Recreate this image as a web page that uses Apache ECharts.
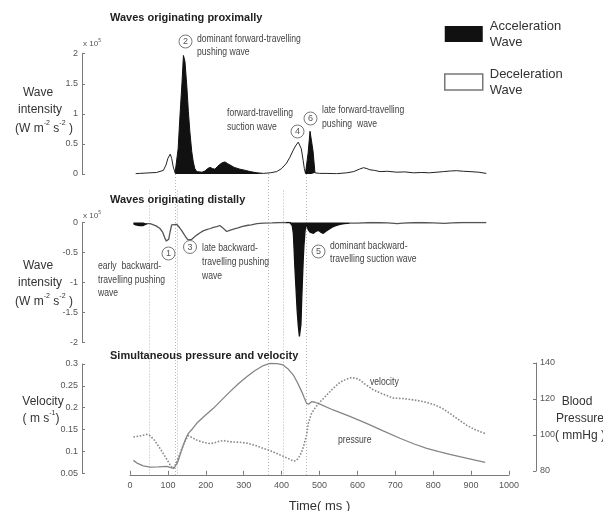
<!DOCTYPE html>
<html>
<head>
<meta charset="utf-8">
<script src="https://cdn.jsdelivr.net/npm/echarts@6/dist/echarts.min.js"></script>
<style>
  html, body { margin: 0; padding: 0; background: #fff; }
  #chart { width: 603px; height: 511px; }
</style>
</head>
<body>
<div id="chart"></div>
<script>
// ---- Wave intensity of waves originating proximally (x10^5 W m-2 s-2) ----
const proxTime = [15, 25, 40, 53, 70, 88, 95, 100, 106, 110, 114, 119, 123, 127, 132, 137, 141, 145, 150, 154, 158, 163, 167, 171, 176, 180, 190, 198, 205, 211, 218, 224, 230, 237, 244, 251, 258, 264, 275, 290, 305, 317, 335, 352, 370, 387, 400, 413, 422, 431, 438, 444, 448, 452, 457, 460, 463, 466, 470, 475, 479, 483, 488, 500, 520, 545, 572, 590, 605, 616, 625, 633, 645, 660, 680, 704, 725, 748, 770, 790, 810, 827, 845, 862, 880, 897, 920, 940];
const proxIntensity = [0.005, 0.01, 0.015, 0.02, 0.025, 0.06, 0.15, 0.26, 0.33, 0.26, 0.12, 0.02, 0.0, 0.42, 0.98, 1.5, 1.97, 1.87, 1.45, 1.04, 0.7, 0.37, 0.2, 0.09, 0.04, 0.02, 0.03, 0.05, 0.09, 0.11, 0.09, 0.08, 0.12, 0.16, 0.19, 0.2, 0.17, 0.15, 0.11, 0.08, 0.06, 0.04, 0.02, 0.01, 0.02, 0.04, 0.09, 0.18, 0.28, 0.4, 0.48, 0.53, 0.52, 0.42, 0.22, 0.09, 0.01, 0.0, 0.35, 0.71, 0.72, 0.38, 0.02, 0.01, 0.01, 0.005, 0.02, 0.04, 0.08, 0.105, 0.09, 0.07, 0.06, 0.04, 0.045, 0.03, 0.035, 0.02, 0.025, 0.02, 0.03, 0.04, 0.05, 0.055, 0.045, 0.04, 0.03, 0.01];
const proxAccelSpans = [[123, 352], [466, 488]];

// ---- Wave intensity of waves originating distally (x10^5 W m-2 s-2) ----
const distTime = [9, 15, 25, 35, 45, 53, 62, 70, 79, 86, 92, 96, 99, 102, 106, 110, 115, 123, 130, 136, 141, 148, 153, 157, 163, 170, 176, 185, 193, 202, 212, 220, 229, 237, 245, 255, 263, 273, 285, 295, 308, 320, 335, 352, 375, 396, 410, 422, 428, 431, 433, 435, 438, 441, 444, 447, 449, 451, 453, 455, 457, 459, 462, 466, 470, 475, 480, 484, 490, 497, 503, 510, 516, 523, 530, 536, 545, 554, 565, 580, 600, 640, 680, 705, 720, 760, 800, 830, 850, 880, 910, 940];
const distIntensity = [-0.02, -0.04, -0.05, -0.05, -0.02, -0.02, -0.04, -0.06, -0.1, -0.16, -0.26, -0.31, -0.34, -0.28, -0.15, -0.04, -0.02, -0.03, -0.08, -0.13, -0.18, -0.25, -0.29, -0.31, -0.28, -0.24, -0.21, -0.17, -0.14, -0.12, -0.1, -0.08, -0.07, -0.05, -0.09, -0.15, -0.13, -0.11, -0.09, -0.07, -0.05, -0.04, -0.02, -0.01, -0.005, 0, 0, 0, -0.05, -0.18, -0.45, -0.74, -1.1, -1.46, -1.72, -1.9, -1.93, -1.7, -1.29, -0.95, -0.63, -0.38, -0.13, -0.02, -0.12, -0.16, -0.19, -0.18, -0.15, -0.13, -0.16, -0.18, -0.15, -0.12, -0.09, -0.07, -0.05, -0.03, -0.02, -0.01, -0.01, 0, -0.005, -0.02, -0.01, 0, -0.005, -0.015, -0.005, 0, 0, 0];
const distAccelSpans = [[9, 45], [422, 580]];

// ---- Simultaneous velocity (m s-1) and pressure (mmHg) ----
const velTime = [9, 30, 44, 53, 65, 79, 90, 101, 108, 113, 118, 123, 132, 141, 148, 154, 165, 176, 193, 210, 220, 235, 246, 264, 290, 308, 330, 352, 375, 396, 415, 431, 438, 444, 449, 453, 458, 462, 466, 470, 478, 488, 500, 519, 537, 554, 570, 585, 597, 607, 620, 642, 665, 695, 720, 747, 775, 800, 825, 844, 865, 888, 910, 937];
const velocity = [0.133, 0.136, 0.139, 0.136, 0.125, 0.107, 0.092, 0.0765, 0.066, 0.061, 0.066, 0.0765, 0.095, 0.115, 0.128, 0.136, 0.131, 0.126, 0.121, 0.118, 0.119, 0.123, 0.125, 0.122, 0.121, 0.119, 0.114, 0.107, 0.1, 0.092, 0.085, 0.078, 0.079, 0.084, 0.092, 0.099, 0.112, 0.125, 0.138, 0.163, 0.185, 0.199, 0.212, 0.229, 0.245, 0.258, 0.265, 0.269, 0.267, 0.263, 0.254, 0.241, 0.232, 0.222, 0.221, 0.218, 0.214, 0.208, 0.198, 0.187, 0.174, 0.16, 0.15, 0.141];
const presTime = [9, 20, 35, 53, 75, 97, 110, 116, 120, 126, 132, 140, 148, 154, 165, 176, 198, 220, 242, 264, 286, 308, 330, 352, 369, 388, 404, 418, 431, 442, 453, 460, 466, 472, 479, 488, 501, 536, 580, 624, 668, 712, 750, 783, 815, 844, 890, 937];
const pressure = [85.9, 84.2, 82.8, 82.1, 82.3, 82.6, 81.8, 81.5, 82.2, 85, 88.9, 94, 98.5, 100.9, 103.5, 106.5, 110.8, 114.8, 119.5, 124.1, 128.5, 132.4, 135.8, 138.6, 139.8, 139.7, 138.9, 136.5, 133.3, 129, 124.1, 120.5, 117.6, 117.2, 118.5, 118.2, 117.1, 113.9, 110.3, 106.5, 102.3, 98.2, 95, 92.6, 90.8, 89.3, 87, 84.8];

// ---- Timing of the numbered waves (ms) ----
const markerTimes = [50, 119, 125, 364, 404, 464];
const markerStartsInProximal = [false, true, false, true, false, true];

const SANS = "'Liberation Sans', Arial, sans-serif";
const AXIS_GREY = '#7a7a7a';
const LABEL_GREY = '#555';
const NARROW_SCALE = 0.82;   // condensed look for annotation text

// Split a wave-intensity trace into acceleration and deceleration pieces.
function splitSpans(ts, vs, spans) {
  const acc = [], dec = [];
  let cur = null, curType = null;
  for (let i = 0; i < ts.length; i++) {
    const t = ts[i];
    const type = spans.some(s => t >= s[0] && t <= s[1]) ? 'acc' : 'dec';
    if (type !== curType) {
      const seg = [];
      if (cur && cur.length) seg.push(cur[cur.length - 1]);
      (type === 'acc' ? acc : dec).push(seg);
      cur = seg; curType = type;
    }
    cur.push([t, vs[i]]);
  }
  return { acc, dec };
}

function waveSeries(ts, vs, spans, axisIndex, lineColor, lineWidth) {
  const parts = splitSpans(ts, vs, spans);
  const out = [];
  parts.dec.forEach(seg => out.push({
    type: 'line', name: 'Deceleration Wave', xAxisIndex: axisIndex, yAxisIndex: axisIndex,
    data: seg, symbol: 'none', silent: true, z: 3,
    itemStyle: { color: '#fff' },
    lineStyle: { color: lineColor, width: lineWidth }
  }));
  parts.acc.forEach(seg => out.push({
    type: 'line', name: 'Acceleration Wave', xAxisIndex: axisIndex, yAxisIndex: axisIndex,
    data: seg, symbol: 'none', silent: true, z: 4,
    itemStyle: { color: '#111' },
    lineStyle: { color: '#111', width: lineWidth },
    areaStyle: { color: '#111', opacity: 1 }
  }));
  return out;
}

const PLOT_LEFT = 130, PLOT_WIDTH = 379;

function yAxisBase(extra) {
  return Object.assign({
    type: 'value', offset: 48, splitLine: { show: false },
    axisLine: { show: true, onZero: false, lineStyle: { color: AXIS_GREY, width: 1 } },
    axisTick: { show: true, inside: true, length: 3, lineStyle: { color: AXIS_GREY } },
    axisLabel: { color: LABEL_GREY, fontFamily: SANS, fontSize: 9, margin: 4 }
  }, extra);
}
function hiddenX(gridIndex) {
  return { type: 'value', gridIndex, min: 0, max: 1000, show: false };
}

const option = {
  animation: false,
  backgroundColor: '#fff',
  textStyle: { fontFamily: SANS },
  title: [
    { text: 'Waves originating proximally', left: 110, top: 12 },
    { text: 'Waves originating distally', left: 110, top: 194 },
    { text: 'Simultaneous pressure and velocity', left: 110, top: 350 }
  ].map(t => Object.assign(t, { padding: 0, textStyle: { fontFamily: SANS, fontSize: 11, fontWeight: 'bold', color: '#222' } })),
  legend: {
    left: 444, top: 18, orient: 'vertical', itemWidth: 38, itemHeight: 16, itemGap: 16,
    padding: 0, selectedMode: false,
    textStyle: { fontFamily: SANS, fontSize: 13, lineHeight: 16, color: '#333', padding: [0, 0, 0, 2] },
    formatter: name => name.replace(' ', '\n'),
    data: [
      { name: 'Acceleration Wave', icon: 'rect', itemStyle: { color: '#111', borderWidth: 0 } },
      { name: 'Deceleration Wave', icon: 'rect', itemStyle: { color: '#fff', borderColor: '#777', borderWidth: 1.5 } }
    ]
  },
  grid: [
    { left: PLOT_LEFT, width: PLOT_WIDTH, top: 53.7, height: 120.3, outerBoundsMode: 'none' },
    { left: PLOT_LEFT, width: PLOT_WIDTH, top: 222.5, height: 120, outerBoundsMode: 'none' },
    { left: PLOT_LEFT, width: PLOT_WIDTH, top: 364, height: 109.3, outerBoundsMode: 'none' },
    { left: PLOT_LEFT, width: PLOT_WIDTH, top: 363, height: 108, outerBoundsMode: 'none' }
  ],
  xAxis: [
    hiddenX(0), hiddenX(1),
    {
      type: 'value', gridIndex: 2, min: 0, max: 1000, interval: 100, offset: 1.5,
      splitLine: { show: false },
      axisLine: { show: true, onZero: false, lineStyle: { color: AXIS_GREY, width: 1 } },
      axisTick: { show: true, inside: true, length: 4, lineStyle: { color: AXIS_GREY } },
      axisLabel: { color: LABEL_GREY, fontFamily: SANS, fontSize: 9, margin: 6, formatter: v => String(v) },
      name: 'Time( ms )', nameLocation: 'middle', nameGap: 25,
      nameTextStyle: { fontFamily: SANS, fontSize: 13, color: '#333' }
    },
    hiddenX(3)
  ],
  yAxis: [
    yAxisBase({ gridIndex: 0, min: 0, max: 2, interval: 0.5 }),
    yAxisBase({ gridIndex: 1, min: -2, max: 0, interval: 0.5 }),
    yAxisBase({ gridIndex: 2, min: 0.05, max: 0.3, interval: 0.05 }),
    yAxisBase({ gridIndex: 3, min: 80, max: 140, interval: 20, position: 'right', offset: 27 })
  ],
  series: [
    ...waveSeries(proxTime, proxIntensity, proxAccelSpans, 0, '#222', 1),
    ...waveSeries(distTime, distIntensity, distAccelSpans, 1, '#555', 1.3),
    {
      type: 'line', name: 'velocity', xAxisIndex: 2, yAxisIndex: 2, symbol: 'none', silent: true,
      data: velTime.map((t, i) => [t, velocity[i]]),
      lineStyle: { color: '#8a8a8a', width: 1.6, type: 'dotted' }
    },
    {
      type: 'line', name: 'pressure', xAxisIndex: 3, yAxisIndex: 3, symbol: 'none', silent: true,
      data: presTime.map((t, i) => [t, pressure[i]]),
      lineStyle: { color: '#858585', width: 1.3 }
    }
  ]
};

const chart = echarts.init(document.getElementById('chart'), null, { renderer: 'canvas' });
chart.setOption(option);

// ---- annotations ----
function txt(x, y, text, opts, narrow) {
  return {
    type: 'text', x, y, z: 20, silent: true, scaleX: narrow === false ? 1 : NARROW_SCALE,
    style: Object.assign({ text, fill: '#444', font: '10.5px ' + SANS, verticalAlign: 'middle', align: 'left' }, opts || {})
  };
}
function circled(cx, cy, n) {
  return [
    { type: 'circle', z: 20, silent: true, shape: { cx, cy, r: 6.5 }, style: { fill: '#fff', stroke: '#777', lineWidth: 1 } },
    txt(cx, cy + 0.5, String(n), { align: 'center', font: '9px ' + SANS, fill: '#555' }, false)
  ];
}
const supRich = {
  n: { fontFamily: SANS, fontSize: 12, lineHeight: 15, verticalAlign: 'bottom', fill: '#333' },
  s: { fontFamily: SANS, fontSize: 7, lineHeight: 15, verticalAlign: 'top', fill: '#333' }
};
const tinyRich = {
  n: { fontFamily: SANS, fontSize: 8, lineHeight: 10, verticalAlign: 'bottom', fill: '#555' },
  s: { fontFamily: SANS, fontSize: 5, lineHeight: 10, verticalAlign: 'top', fill: '#555' }
};
function axisTitle(x, y, text) {
  return txt(x, y, text, { align: 'center', font: '12px ' + SANS, fill: '#333' }, false);
}
function richTitle(x, y, text, rich) {
  return { type: 'text', x, y, z: 20, silent: true, style: { text, rich, align: 'center', verticalAlign: 'middle' } };
}

const elements = [];

// dotted timing lines spanning the panels
const yProxBase = chart.convertToPixel({ yAxisIndex: 0 }, 0);
const yDistStart = chart.convertToPixel({ yAxisIndex: 1 }, 0) - 32;
const yTimeAxis = chart.convertToPixel({ yAxisIndex: 2 }, 0.05) + 1.5;
markerTimes.forEach((t, i) => {
  const x = Math.round(chart.convertToPixel({ xAxisIndex: 2 }, t)) + 0.5;
  elements.push({
    type: 'line', z: 1, silent: true,
    shape: { x1: x, y1: markerStartsInProximal[i] ? yProxBase : yDistStart, x2: x, y2: yTimeAxis },
    style: { stroke: '#b5b5b5', lineWidth: 1, lineDash: [1, 2] }
  });
});

// proximal annotations
elements.push(...circled(185.5, 41.5, 2));
elements.push(txt(197, 39, 'dominant forward-travelling'), txt(197, 52, 'pushing wave'));
elements.push(txt(227, 113, 'forward-travelling'), txt(227, 127, 'suction wave'));
elements.push(...circled(297.5, 131.5, 4), ...circled(310.5, 118.5, 6));
elements.push(txt(322, 110, 'late forward-travelling'), txt(322, 124, 'pushing  wave'));

// distal annotations
elements.push(...circled(168.5, 253.5, 1), ...circled(190, 247, 3));
elements.push(txt(202, 248, 'late backward-'), txt(202, 262, 'travelling pushing'), txt(202, 276, 'wave'));
elements.push(txt(98, 266.5, 'early  backward-'), txt(98, 280, 'travelling pushing'), txt(98, 293, 'wave'));
elements.push(...circled(318.5, 251.5, 5));
elements.push(txt(330, 246, 'dominant backward-'), txt(330, 259, 'travelling suction wave'));

// pressure / velocity labels
elements.push(txt(370, 382, 'velocity'), txt(338, 440, 'pressure'));

// axis titles
elements.push(axisTitle(38, 93, 'Wave'), axisTitle(40, 110, 'intensity'));
elements.push(richTitle(44, 127, '{n|(W m}{s|-2}{n| s}{s|-2}{n| )}', supRich));
elements.push(axisTitle(38, 266, 'Wave'), axisTitle(40, 283, 'intensity'));
elements.push(richTitle(44, 300, '{n|(W m}{s|-2}{n| s}{s|-2}{n| )}', supRich));
elements.push(axisTitle(43, 402, 'Velocity'));
elements.push(richTitle(41, 417, '{n|( m s}{s|-1}{n|)}', supRich));
elements.push(axisTitle(577, 402, 'Blood'), axisTitle(580, 419, 'Pressure'), axisTitle(580, 436, '( mmHg )'));
elements.push(richTitle(92, 43, '{n|x 10}{s|5}', tinyRich));
elements.push(richTitle(92, 215, '{n|x 10}{s|5}', tinyRich));

chart.setOption({ graphic: { elements } });
</script>
</body>
</html>
